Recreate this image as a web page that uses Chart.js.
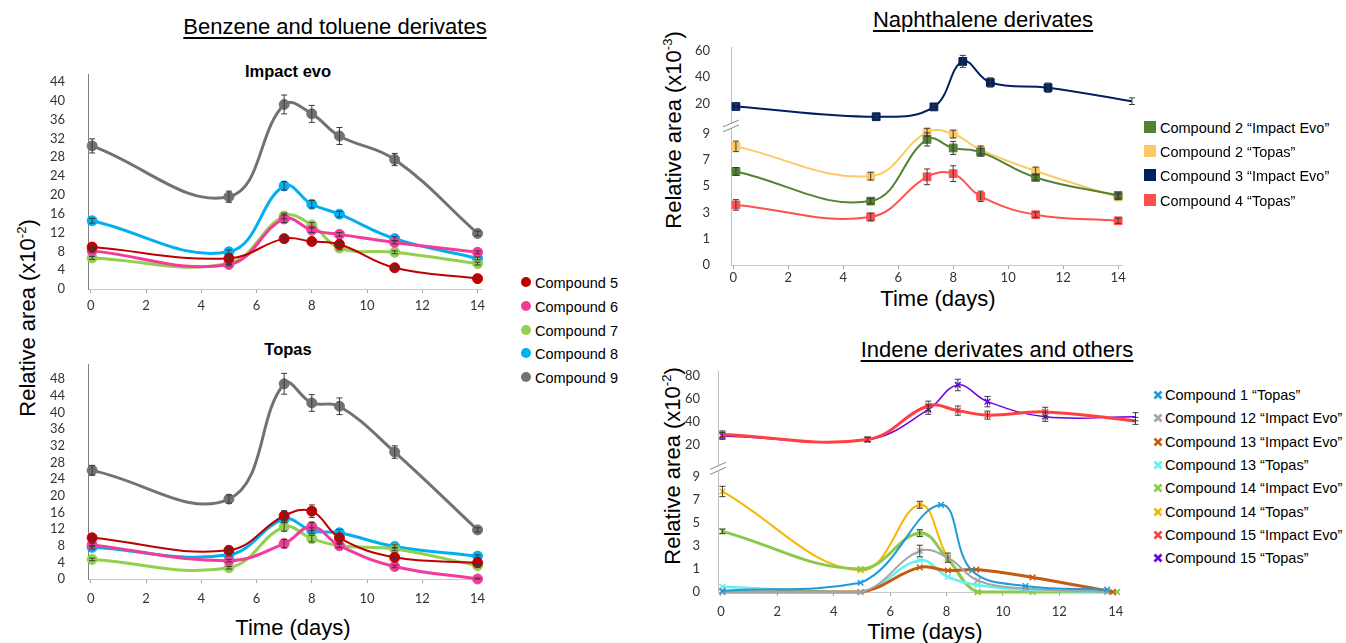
<!DOCTYPE html>
<html>
<head>
<meta charset="utf-8">
<script src="https://cdn.jsdelivr.net/npm/chart.js@4.4.1/dist/chart.umd.min.js"></script>
<style>
body { margin:0; background:#fff; width:1346px; height:643px; position:relative; overflow:hidden;
       font-family:"Liberation Sans", Arial, sans-serif; color:#000; }
canvas { position:absolute; }
.t { position:absolute; white-space:nowrap; line-height:1; }
.title { font-size:22px; text-decoration:underline; text-underline-offset:3px; transform:translateX(-50%); }
.sub { font-size:16.5px; font-weight:bold; transform:translateX(-50%); }
.ytitle { font-size:22px; transform:translate(-50%,-50%) rotate(-90deg); }
.xtitle { font-size:22px; transform:translate(-50%,-50%); }
.leg { position:absolute; font-size:14.5px; white-space:nowrap; line-height:1; }
.leg svg { position:absolute; }
</style>
</head>
<body>

<div class="t title" style="left:335px;top:16px">Benzene and toluene derivates</div>
<div class="t title" style="left:983px;top:9px">Naphthalene derivates</div>
<div class="t title" style="left:997px;top:339px">Indene derivates and others</div>
<div class="t sub" style="left:288px;top:63px">Impact evo</div>
<div class="t sub" style="left:288px;top:341px">Topas</div>
<div class="t ytitle" style="left:27px;top:318px">Relative area (x10<sup style="font-size:13px">-2</sup>)</div>
<div class="t ytitle" style="left:673px;top:130px">Relative area (x10<sup style="font-size:13px">-3</sup>)</div>
<div class="t ytitle" style="left:672px;top:466px">Relative area (x10<sup style="font-size:13px">-2</sup>)</div>
<div class="t xtitle" style="left:293px;top:628px">Time (days)</div>
<div class="t xtitle" style="left:938px;top:299px">Time (days)</div>
<div class="t xtitle" style="left:925px;top:632px">Time (days)</div>

<script>
// ---- shared ticks ----
const xTicks = [0, 2, 4, 6, 8, 10, 12, 14];
const impactTicks = [0, 4, 8, 12, 16, 20, 24, 28, 32, 36, 40, 44];
const topasTicks = [0, 4, 8, 12, 16, 20, 24, 28, 32, 36, 40, 44, 48];
const napUpperTicks = [20, 40, 60];
const indUpperTicks = [20, 40, 60, 80];
const lowTickLabels = [0, 1, 3, 5, 7, 9];   // broken lower axis, 0 sits one step below 1

// ---- benzene and toluene derivates ----
const daysBT = [0.05, 5, 7, 8, 9, 11, 14];
const btNames = ['Compound 5', 'Compound 6', 'Compound 7', 'Compound 8', 'Compound 9'];
const btColors = ['#c00000', '#f23c9b', '#92d050', '#00b0f0', '#767171'];
const btWidths = [2, 3, 3, 3, 3];

const impact5 = [8.9, 6.5, 10.7, 10.1, 9.5, 4.5, 2.2];
const impact6 = [8.1, 5.2, 14.9, 12.5, 11.6, 9.9, 7.8];
const impact7 = [6.6, 5.5, 15.5, 13.6, 8.7, 7.8, 5.4];
const impact8 = [14.5, 7.9, 21.9, 18.0, 15.9, 10.7, 6.5];
const impact9 = [30.4, 19.6, 39.2, 37.2, 32.5, 27.5, 11.8];
const impactErr5 = [0.3, 0.3, 0.5, 0.4, 0.4, 0.3, 0.2];
const impactErr6 = [0.3, 0.3, 0.8, 0.5, 0.4, 0.3, 0.3];
const impactErr7 = [0.3, 0.3, 0.6, 0.5, 0.4, 0.3, 0.3];
const impactErr8 = [0.5, 0.4, 0.9, 0.8, 0.6, 0.4, 0.3];
const impactErr9 = [1.5, 1.2, 2.0, 1.8, 1.8, 1.3, 0.5];

const topas5 = [9.9, 6.9, 15.2, 16.3, 9.9, 5.2, 3.9];
const topas6 = [8.2, 4.4, 8.5, 12.6, 8.0, 3.0, 0];
const topas7 = [4.7, 2.7, 12.5, 9.7, 8.0, 7.2, 3.2];
const topas8 = [7.6, 5.8, 14.4, 11.6, 11.1, 7.8, 5.5];
const topas9 = [26.1, 19.2, 46.9, 42.3, 41.5, 30.5, 11.8];
const topasErr5 = [0.5, 0.4, 1.2, 1.5, 0.6, 0.4, 0.3];
const topasErr6 = [0.4, 0.3, 1.0, 1.0, 0.4, 0.3, 0.2];
const topasErr7 = [0.3, 0.3, 1.0, 0.8, 0.5, 0.4, 0.3];
const topasErr8 = [0.4, 0.3, 0.8, 0.7, 0.8, 0.4, 0.3];
const topasErr9 = [1.2, 1.0, 2.5, 2.0, 2.0, 1.5, 0.5];

// ---- naphthalene derivates (x10^-3) ----
const napNames = ['Compound 2 \u201cImpact Evo\u201d', 'Compound 2 \u201cTopas\u201d', 'Compound 3 \u201cImpact Evo\u201d', 'Compound 4 \u201cTopas\u201d'];
const napColors = ['#548235', '#fdc964', '#002060', '#ff5050'];
const daysNapLow = [0.1, 5, 7.05, 8, 9, 11, 14];
const daysNapUp = [0.1, 5.2, 7.3, 8.35, 9.35, 11.45, 14.5];
const nap2Impact = [6.13, 3.87, 8.57, 7.92, 7.6, 5.67, 4.3];
const nap2Topas = [8.04, 5.77, 9.12, 8.98, 7.77, 6.16, 4.18];
const nap3Impact = [17.9, 10.2, 17.6, 51.9, 36.0, 32.1, 21.9];
const nap4Topas = [3.58, 2.66, 5.72, 5.96, 4.23, 2.83, 2.37];
const nap2ImpactErr = [0.3, 0.2, 0.5, 0.5, 0.3, 0.2, 0.2];
const nap2TopasErr = [0.4, 0.3, 0.3, 0.3, 0.3, 0.3, 0.2];
const nap3ImpactErr = [2, 1.2, 1.5, 4.5, 3.5, 3.5, 2.5];
const nap4TopasErr = [0.4, 0.3, 0.6, 0.6, 0.4, 0.2, 0.2];

// ---- indene derivates and others (x10^-2) ----
const indNames = ['Compound 1 \u201cTopas\u201d', 'Compound 12 \u201cImpact Evo\u201d', 'Compound 13 \u201cImpact Evo\u201d', 'Compound 13 \u201cTopas\u201d',
                  'Compound 14 \u201cImpact Evo\u201d', 'Compound 14 \u201cTopas\u201d', 'Compound 15 \u201cImpact Evo\u201d', 'Compound 15 \u201cTopas\u201d'];
const indColors = ['#1f9bd7', '#a5a5a5', '#c55a11', '#66f0f0', '#8cc84b', '#f5b800', '#ff4040', '#6b00e6'];
const indWidths = [2, 2, 3, 2.5, 3, 2, 3, 1.5];
const daysInd1 = [0.05, 4.95, 7.8, 8.9, 10.8, 13.7];
const daysIndGrey = [0.05, 4.95, 7.05, 8.05, 9.1, 10.8, 13.7];
const daysIndBrown = [0.05, 4.95, 7.05, 8.05, 9.05, 11.05, 13.9];
const daysInd14 = [0.05, 4.95, 7.05, 8.05, 9.1, 11.05, 14.05];
const daysInd15 = [0.05, 5.2, 7.35, 8.4, 9.45, 11.5, 14.7];
const ind1Topas = [0.05, 0.4, 6.55, 0.93, 0.26, 0.1];
const ind12Impact = [0, 0, 2.55, 1.97, 0.5, 0.15, 0];
const ind13Impact = [0, 0, 1.13, 0.93, 0.97, 0.63, 0];
const ind13Topas = [0.23, 0, 1.75, 0.65, 0.3, 0.1, 0];
const ind14Impact = [4.25, 1.0, 4.1, 1.83, 0, 0, 0];
const ind14Topas = [7.7, 0.93, 6.55, 1.97, 0, 0, 0];
const ind15Impact = [29.4, 25, 54.2, 50, 46.1, 48.9, 41.1];
const ind15Topas = [28.1, 25, 50.8, 72.2, 57.8, 44.7, 44.7];
const ind12ImpactErr = [0, 0, 0.5, 0.4, 0, 0, 0];
const ind14ImpactErr = [0.2, 0, 0.3, 0, 0, 0, 0];
const ind14TopasErr = [0.45, 0, 0.3, 0, 0, 0, 0];
const ind15ImpactErr = [3, 2, 4, 4, 3.5, 4, 3];
const ind15TopasErr = [3, 2, 4, 5, 4.5, 4, 3.5];

// lower broken axis: values under 1 are stretched over one tick step
function lowPos(v) { return v < 1 ? 2 * v - 1 : v; }
function same(v) { return v; }

const YW_LEFT = 45, YW_RIGHT = 50;

// error bars drawn from the raw values through each dataset's own y scale
const errorBars = {
  id: 'errorBars',
  afterDatasetsDraw(chart) {
    const ctx = chart.ctx;
    chart.data.datasets.forEach((ds, i) => {
      if (!ds.errors) return;
      const meta = chart.getDatasetMeta(i);
      const ys = chart.scales[meta.yAxisID];
      ctx.save();
      ctx.strokeStyle = '#3a3a3a';
      ctx.lineWidth = 1;
      meta.data.forEach((pt, j) => {
        const e = ds.errors[j];
        if (!e) return;
        const v = ds.raw[j];
        const y1 = ys.getPixelForValue(ds.mapFn(v + e));
        const y2 = ys.getPixelForValue(ds.mapFn(Math.max(v - e, 0)));
        ctx.beginPath();
        ctx.moveTo(pt.x, y1); ctx.lineTo(pt.x, y2);
        ctx.moveTo(pt.x - 3, y1); ctx.lineTo(pt.x + 3, y1);
        ctx.moveTo(pt.x - 3, y2); ctx.lineTo(pt.x + 3, y2);
        ctx.stroke();
      });
      ctx.restore();
    });
  }
};

// the "//" mark where the two stacked y scales meet
const axisBreak = {
  id: 'axisBreak',
  afterDraw(chart, args, opts) {
    if (!opts.scale) return;
    const ctx = chart.ctx;
    const y = chart.scales[opts.scale].bottom;
    const x = chart.chartArea.left;
    ctx.save();
    ctx.fillStyle = '#fff';
    ctx.fillRect(x - 2, y - 3, 4, 6);
    ctx.strokeStyle = '#8a8a8a';
    ctx.lineWidth = 1;
    ctx.beginPath();
    ctx.moveTo(x - 8, y + 1); ctx.lineTo(x + 8, y - 6);
    ctx.moveTo(x - 8, y + 6); ctx.lineTo(x + 8, y - 1);
    ctx.stroke();
    ctx.restore();
  }
};

function series(label, days, vals, errs, color, width, style, radius, yAxisID, mapFn) {
  return {
    label: label,
    data: days.map((d, i) => ({ x: d, y: mapFn(vals[i]) })),
    raw: vals, errors: errs, mapFn: mapFn,
    borderColor: color, backgroundColor: color, borderWidth: width,
    pointStyle: style, pointRadius: radius, pointBorderColor: color, pointBackgroundColor: color,
    pointBorderWidth: style === 'crossRot' ? 1.5 : 1,
    tension: 0.4, yAxisID: yAxisID, clip: false, fill: false
  };
}

function xScale(min, max, pad) {
  return {
    type: 'linear', min: min, max: max,
    afterBuildTicks: s => { s.ticks = xTicks.map(v => ({ value: v })); },
    afterFit: s => { s.height = 30; },
    grid: { display: true, drawOnChartArea: false, drawTicks: true, tickLength: 4, color: '#a6a6a6' },
    border: { display: true, color: '#c8c8c8', width: 1 },
    ticks: { padding: pad, color: '#333', font: { family: 'Lato', size: 13 }, maxRotation: 0, autoSkip: false }
  };
}

function yScale(min, max, ticks, labels, yw, pad, borderColor, extra) {
  return Object.assign({
    type: 'linear', position: 'left', min: min, max: max,
    afterBuildTicks: s => { s.ticks = ticks.map(v => ({ value: v })); },
    afterFit: s => { s.width = yw; },
    grid: { display: false },
    border: { display: true, color: borderColor, width: 1 },
    ticks: { padding: pad, color: '#333', font: { family: 'Lato', size: 13 }, autoSkip: false,
             callback: (v, i) => labels[i] }
  }, extra || {});
}

function makeChart(left, top, w, h, datasets, scales, breakScale) {
  const c = document.createElement('canvas');
  c.width = w; c.height = h;
  c.style.left = left + 'px'; c.style.top = top + 'px';
  document.body.appendChild(c);
  return new Chart(c, {
    type: 'line',
    data: { datasets: datasets },
    options: {
      responsive: false, animation: false, events: [],
      layout: { padding: { top: 10, right: 25, bottom: 0, left: 0 } },
      scales: scales,
      plugins: { legend: { display: false }, tooltip: { enabled: false }, axisBreak: { scale: breakScale } }
    },
    plugins: [errorBars, axisBreak]
  });
}

function btSets(vals, errs) {
  return vals.map((v, i) => series(btNames[i], daysBT, v, errs[i], btColors[i], btWidths[i], 'circle', 5, 'y', same));
}

// Impact evo
makeChart(43, 52, 464, 267,
  btSets([impact5, impact6, impact7, impact8, impact9], [impactErr5, impactErr6, impactErr7, impactErr8, impactErr9]),
  { x: xScale(-0.1, 14.16, 5), y: yScale(0, 45.5, impactTicks, impactTicks, YW_LEFT, 15, '#7f7f7f') });

// Topas
makeChart(43, 342, 464, 267,
  btSets([topas5, topas6, topas7, topas8, topas9], [topasErr5, topasErr6, topasErr7, topasErr8, topasErr9]),
  { x: xScale(-0.1, 14.16, 8), y: yScale(0, 51.46, topasTicks, topasTicks, YW_LEFT, 15, '#7f7f7f') });

// Naphthalene
makeChart(681, 27, 466, 268, [
    series(napNames[0], daysNapLow, nap2Impact, nap2ImpactErr, napColors[0], 2, 'rect', 5.5, 'yLow', lowPos),
    series(napNames[1], daysNapLow, nap2Topas, nap2TopasErr, napColors[1], 2, 'rect', 5.5, 'yLow', lowPos),
    series(napNames[2], daysNapUp, nap3Impact, nap3ImpactErr, napColors[2], 2, 'rect', 5.5, 'yTop', same),
    series(napNames[3], daysNapLow, nap4Topas, nap4TopasErr, napColors[3], 2, 'rect', 5.5, 'yLow', lowPos)
  ], {
    x: xScale(-0.08, 14.14, 1),
    yTop: yScale(3.27, 62.15, napUpperTicks, napUpperTicks, YW_RIGHT, 13, '#bfbfbf', { stack: 'nap', stackWeight: 82, weight: 2 }),
    yLow: yScale(-1, 9.6, lowTickLabels.map(lowPos), lowTickLabels, YW_RIGHT, 13, '#bfbfbf', { stack: 'nap', stackWeight: 146, weight: 1 })
  }, 'yTop');

// Indene and others
makeChart(668, 354, 475, 268, [
    series(indNames[0], daysInd1, ind1Topas, null, indColors[0], indWidths[0], 'crossRot', 4, 'yLow', lowPos),
    series(indNames[1], daysIndGrey, ind12Impact, ind12ImpactErr, indColors[1], indWidths[1], 'crossRot', 4, 'yLow', lowPos),
    series(indNames[2], daysIndBrown, ind13Impact, null, indColors[2], indWidths[2], 'crossRot', 4, 'yLow', lowPos),
    series(indNames[3], daysIndGrey, ind13Topas, null, indColors[3], indWidths[3], 'crossRot', 4, 'yLow', lowPos),
    series(indNames[4], daysInd14, ind14Impact, ind14ImpactErr, indColors[4], indWidths[4], 'crossRot', 4, 'yLow', lowPos),
    series(indNames[5], daysInd14, ind14Topas, ind14TopasErr, indColors[5], indWidths[5], 'crossRot', 4, 'yLow', lowPos),
    series(indNames[6], daysInd15, ind15Impact, ind15ImpactErr, indColors[6], indWidths[6], 'crossRot', 4, 'yTop', same),
    series(indNames[7], daysInd15, ind15Topas, ind15TopasErr, indColors[7], indWidths[7], 'crossRot', 4, 'yTop', same)
  ], {
    x: xScale(-0.106, 14.08, 8),
    yTop: yScale(0, 83.6, indUpperTicks, indUpperTicks, YW_RIGHT, 10, '#bfbfbf', { stack: 'ind', stackWeight: 100, weight: 2 }),
    yLow: yScale(-1, 9.7, lowTickLabels.map(lowPos), lowTickLabels, YW_RIGHT, 10, '#bfbfbf', { stack: 'ind', stackWeight: 128, weight: 1 })
  }, 'yTop');

// ---- legends ----
function marker(kind, color) {
  if (kind === 'circle') return '<svg width="12" height="12" style="left:-15px;top:0px"><circle cx="6" cy="6" r="5" fill="' + color + '"/></svg>';
  if (kind === 'rect') return '<svg width="13" height="12" style="left:-16px;top:0px"><rect x="0" y="0" width="12" height="12" fill="' + color + '"/></svg>';
  return '<svg width="10" height="10" style="left:-12px;top:2px"><path d="M1.5 1.5L8.5 8.5M8.5 1.5L1.5 8.5" stroke="' + color + '" stroke-width="2.6"/></svg>';
}
function legend(names, colors, kind, x, y0, step) {
  names.forEach((n, i) => {
    const d = document.createElement('div');
    d.className = 'leg';
    d.style.left = x + 'px';
    d.style.top = (y0 + i * step - 7) + 'px';
    d.innerHTML = marker(kind, colors[i]) + n;
    document.body.appendChild(d);
  });
}
legend(btNames, btColors, 'circle', 535, 283, 23.8);
legend(napNames, napColors, 'rect', 1160, 128, 24.2);
legend(indNames, indColors, 'cross', 1165, 395, 23.3);
</script>
</body>
</html>
